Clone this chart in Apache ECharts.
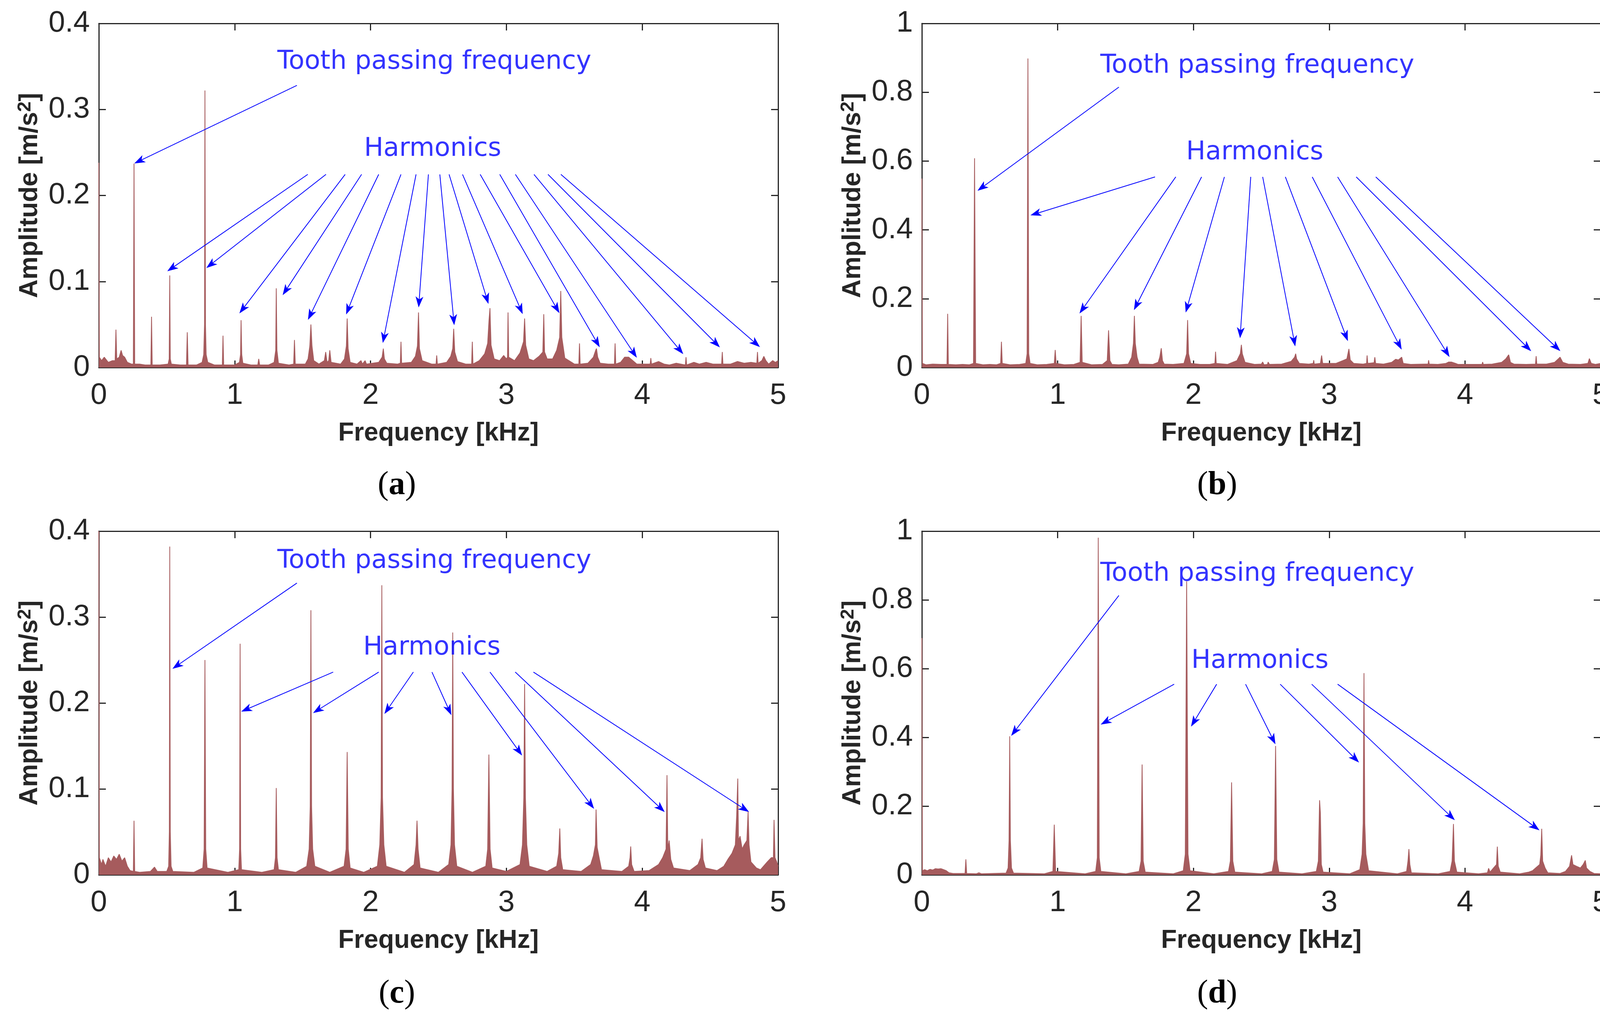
<!DOCTYPE html>
<html><head><meta charset="utf-8">
<script src="https://cdn.jsdelivr.net/npm/echarts@6/dist/echarts.min.js"></script>
<style>html,body{margin:0;padding:0;background:#fff}#c{width:4146px;height:2604px}</style>
</head><body><div id="c"></div>
<script>
// ---------- data ----------
const panelLetters = ['a', 'b', 'c', 'd'];
const xTicksMax = 5;
const yMax = [0.4, 1, 0.4, 1];
const yStep = [0.1, 0.2, 0.1, 0.2];

const spectrumA = [
[0,0.238],[0.004,0.012],[0.02,0.008],[0.04,0.012],[0.07,0.006],[0.1,0.008],
[0.12,0.008],[0.126,0.044],[0.132,0.01],[0.15,0.012],[0.164,0.02],[0.175,0.014],[0.19,0.012],[0.21,0.006],[0.24,0.004],
[0.254,0.004],[0.259,0.237],[0.264,0.004],
[0.3,0.004],[0.34,0.003],[0.383,0.003],[0.388,0.059],[0.393,0.003],
[0.45,0.003],[0.51,0.004],[0.518,0.01],[0.522,0.107],[0.526,0.01],[0.534,0.004],
[0.6,0.003],[0.645,0.003],[0.651,0.041],[0.657,0.003],
[0.72,0.003],[0.76,0.006],[0.772,0.015],[0.778,0.05],[0.781,0.322],[0.785,0.05],[0.79,0.015],[0.802,0.006],
[0.85,0.003],[0.909,0.003],[0.914,0.037],[0.919,0.003],
[1.0,0.003],[1.035,0.006],[1.043,0.015],[1.047,0.055],[1.052,0.015],[1.06,0.005],
[1.12,0.003],[1.17,0.003],[1.177,0.010],[1.184,0.003],
[1.25,0.003],[1.29,0.006],[1.302,0.02],[1.306,0.092],[1.311,0.02],[1.322,0.005],
[1.4,0.003],[1.434,0.004],[1.44,0.032],[1.446,0.004],
[1.52,0.004],[1.54,0.01],[1.553,0.025],[1.561,0.050],[1.569,0.025],[1.582,0.008],
[1.62,0.004],[1.66,0.008],[1.67,0.018],[1.68,0.006],[1.692,0.008],[1.70,0.020],[1.71,0.006],
[1.78,0.004],[1.808,0.01],[1.822,0.025],[1.828,0.057],[1.835,0.022],[1.85,0.006],
[1.9,0.004],[1.93,0.008],[1.94,0.004],[1.96,0.008],[1.97,0.004],
[2.06,0.006],[2.085,0.012],[2.094,0.022],[2.102,0.01],[2.12,0.005],
[2.2,0.004],[2.219,0.005],[2.224,0.030],[2.229,0.005],
[2.3,0.006],[2.33,0.013],[2.345,0.025],[2.353,0.064],[2.36,0.022],[2.38,0.008],
[2.45,0.004],[2.482,0.004],[2.487,0.014],[2.492,0.004],
[2.56,0.006],[2.59,0.013],[2.605,0.022],[2.612,0.045],[2.62,0.018],[2.64,0.007],
[2.7,0.004],[2.744,0.004],[2.749,0.030],[2.754,0.004],
[2.8,0.008],[2.84,0.016],[2.862,0.028],[2.872,0.055],[2.879,0.069],[2.887,0.026],[2.91,0.01],
[2.95,0.008],[2.98,0.014],[3.0,0.01],[3.008,0.012],[3.012,0.064],[3.017,0.012],
[3.06,0.008],[3.1,0.017],[3.126,0.03],[3.134,0.057],[3.142,0.026],[3.165,0.01],
[3.2,0.008],[3.24,0.013],[3.268,0.018],[3.275,0.062],[3.281,0.018],[3.3,0.01],
[3.34,0.01],[3.37,0.02],[3.392,0.035],[3.4,0.089],[3.408,0.035],[3.43,0.011],
[3.5,0.004],[3.533,0.004],[3.538,0.028],[3.543,0.004],
[3.6,0.005],[3.64,0.012],[3.657,0.02],[3.663,0.022],[3.672,0.012],[3.69,0.005],
[3.75,0.004],[3.795,0.004],[3.80,0.028],[3.805,0.004],
[3.84,0.006],[3.87,0.012],[3.9,0.012],[3.93,0.008],[3.96,0.004],
[4.02,0.004],[4.058,0.004],[4.063,0.011],[4.068,0.004],
[4.12,0.007],[4.16,0.004],[4.2,0.003],[4.25,0.005],[4.317,0.003],[4.322,0.012],[4.327,0.003],
[4.38,0.006],[4.42,0.004],[4.47,0.006],[4.52,0.004],[4.584,0.004],[4.589,0.018],[4.594,0.004],
[4.65,0.004],[4.7,0.007],[4.75,0.005],[4.8,0.006],[4.843,0.005],[4.848,0.018],[4.853,0.005],
[4.88,0.008],[4.895,0.013],[4.91,0.008],[4.93,0.004],[4.96,0.008],[4.98,0.006],[5,0.008]
];

const spectrumB = [
[0,0.549],[0.004,0.012],[0.03,0.008],[0.08,0.01],[0.14,0.009],[0.185,0.009],[0.19,0.156],[0.195,0.009],
[0.25,0.008],[0.3,0.009],[0.35,0.008],[0.38,0.012],[0.388,0.608],[0.396,0.012],
[0.45,0.008],[0.5,0.009],[0.55,0.008],[0.58,0.012],[0.586,0.075],[0.592,0.012],
[0.65,0.008],[0.72,0.009],[0.765,0.012],[0.775,0.04],[0.781,0.898],[0.787,0.04],[0.797,0.012],
[0.85,0.008],[0.92,0.009],[0.975,0.012],[0.982,0.051],[0.989,0.012],
[1.05,0.008],[1.12,0.009],[1.165,0.015],[1.173,0.150],[1.181,0.015],
[1.25,0.008],[1.33,0.009],[1.365,0.02],[1.375,0.108],[1.385,0.02],[1.4,0.009],
[1.45,0.008],[1.52,0.01],[1.545,0.03],[1.558,0.07],[1.565,0.150],[1.572,0.07],[1.585,0.03],[1.6,0.01],
[1.7,0.009],[1.74,0.015],[1.752,0.03],[1.763,0.056],[1.772,0.02],[1.785,0.01],
[1.85,0.009],[1.93,0.012],[1.95,0.04],[1.957,0.138],[1.964,0.04],[1.98,0.012],
[2.05,0.009],[2.12,0.009],[2.158,0.012],[2.163,0.046],[2.168,0.012],
[2.25,0.009],[2.32,0.02],[2.345,0.04],[2.353,0.066],[2.36,0.04],[2.38,0.015],
[2.45,0.009],[2.5,0.01],[2.51,0.016],[2.52,0.008],[2.545,0.009],[2.55,0.016],[2.56,0.009],
[2.65,0.01],[2.72,0.018],[2.745,0.03],[2.753,0.040],[2.76,0.025],[2.78,0.012],
[2.85,0.01],[2.882,0.012],[2.886,0.021],[2.89,0.01],[2.935,0.012],[2.944,0.035],[2.952,0.012],
[3.05,0.012],[3.1,0.02],[3.13,0.025],[3.145,0.054],[3.155,0.022],[3.18,0.012],
[3.25,0.01],[3.275,0.012],[3.279,0.035],[3.284,0.012],[3.33,0.014],[3.336,0.030],[3.342,0.012],
[3.4,0.01],[3.46,0.015],[3.49,0.024],[3.51,0.022],[3.534,0.030],[3.545,0.012],
[3.6,0.009],[3.7,0.01],[3.728,0.01],[3.732,0.021],[3.737,0.01],
[3.8,0.009],[3.86,0.012],[3.88,0.016],[3.9,0.016],[3.93,0.012],[3.95,0.009],
[4.05,0.009],[4.125,0.009],[4.13,0.016],[4.135,0.009],
[4.2,0.01],[4.27,0.015],[4.3,0.025],[4.322,0.037],[4.335,0.015],[4.36,0.01],
[4.45,0.009],[4.519,0.01],[4.524,0.033],[4.529,0.01],
[4.6,0.01],[4.66,0.015],[4.69,0.026],[4.7,0.030],[4.72,0.015],[4.76,0.01],
[4.85,0.009],[4.905,0.012],[4.916,0.026],[4.93,0.012],[4.96,0.009],[5,0.012]
];

const spectrumC = [
[0,0.4],[0.004,0.02],[0.02,0.012],[0.03,0.018],[0.05,0.01],[0.07,0.02],[0.09,0.015],[0.11,0.022],[0.13,0.018],[0.15,0.024],[0.17,0.016],[0.19,0.02],[0.21,0.01],[0.23,0.005],
[0.254,0.004],[0.259,0.063],[0.264,0.004],
[0.3,0.003],[0.38,0.004],[0.41,0.009],[0.43,0.004],
[0.5,0.004],[0.514,0.01],[0.519,0.05],[0.522,0.382],[0.526,0.05],[0.532,0.01],[0.545,0.004],
[0.7,0.003],[0.765,0.008],[0.775,0.03],[0.781,0.250],[0.787,0.03],[0.797,0.008],
[0.95,0.003],[1.03,0.006],[1.036,0.03],[1.04,0.269],[1.044,0.03],[1.05,0.006],
[1.2,0.003],[1.29,0.006],[1.3,0.02],[1.306,0.101],[1.312,0.02],[1.322,0.006],
[1.45,0.003],[1.53,0.01],[1.548,0.03],[1.556,0.08],[1.561,0.308],[1.566,0.08],[1.574,0.03],[1.59,0.01],
[1.7,0.003],[1.805,0.01],[1.82,0.03],[1.828,0.143],[1.836,0.03],[1.85,0.008],
[1.95,0.003],[2.05,0.01],[2.068,0.035],[2.078,0.09],[2.083,0.337],[2.088,0.09],[2.098,0.035],[2.115,0.01],
[2.25,0.003],[2.32,0.012],[2.335,0.035],[2.342,0.063],[2.35,0.03],[2.365,0.008],
[2.5,0.003],[2.575,0.012],[2.592,0.035],[2.6,0.1],[2.605,0.282],[2.61,0.1],[2.618,0.035],[2.635,0.01],
[2.75,0.003],[2.848,0.01],[2.862,0.03],[2.871,0.140],[2.88,0.03],[2.895,0.008],
[3.0,0.004],[3.1,0.012],[3.118,0.035],[3.128,0.09],[3.134,0.222],[3.14,0.09],[3.15,0.035],[3.168,0.01],
[3.3,0.004],[3.37,0.01],[3.385,0.025],[3.393,0.054],[3.4,0.02],[3.415,0.006],
[3.55,0.004],[3.62,0.012],[3.64,0.022],[3.655,0.035],[3.66,0.076],[3.668,0.032],[3.685,0.018],[3.7,0.006],
[3.85,0.004],[3.9,0.01],[3.91,0.02],[3.915,0.033],[3.922,0.012],[3.94,0.004],
[4.05,0.005],[4.12,0.012],[4.15,0.02],[4.175,0.03],[4.182,0.116],[4.188,0.03],[4.198,0.04],[4.21,0.018],[4.23,0.008],
[4.35,0.005],[4.41,0.012],[4.43,0.02],[4.44,0.042],[4.448,0.018],[4.465,0.008],
[4.55,0.005],[4.6,0.01],[4.63,0.018],[4.66,0.025],[4.685,0.035],[4.695,0.07],[4.703,0.112],[4.708,0.04],[4.72,0.045],[4.735,0.03],[4.75,0.035],[4.77,0.04],[4.779,0.074],[4.786,0.035],[4.8,0.015],[4.84,0.008],[4.87,0.006],
[4.92,0.015],[4.95,0.02],[4.965,0.02],[4.97,0.064],[4.977,0.02],[4.99,0.015],[5,0.01]
];

const spectrumD = [
[0,0.689],[0.004,0.012],[0.02,0.015],[0.04,0.012],[0.06,0.016],[0.08,0.014],[0.1,0.018],[0.12,0.017],[0.14,0.018],[0.16,0.015],[0.18,0.012],[0.2,0.006],[0.23,0.004],
[0.318,0.004],[0.324,0.045],[0.33,0.004],
[0.4,0.003],[0.42,0.006],[0.44,0.003],
[0.62,0.005],[0.635,0.02],[0.642,0.1],[0.647,0.403],[0.652,0.1],[0.66,0.02],[0.675,0.005],
[0.9,0.003],[0.965,0.01],[0.975,0.146],[0.985,0.01],
[1.2,0.003],[1.28,0.01],[1.292,0.05],[1.299,0.981],[1.306,0.05],[1.318,0.01],
[1.5,0.003],[1.6,0.01],[1.614,0.04],[1.622,0.321],[1.63,0.04],[1.645,0.008],
[1.85,0.003],[1.925,0.012],[1.94,0.06],[1.95,0.854],[1.96,0.06],[1.975,0.012],
[2.15,0.003],[2.258,0.01],[2.272,0.04],[2.281,0.269],[2.29,0.04],[2.305,0.008],
[2.5,0.003],[2.58,0.01],[2.596,0.045],[2.605,0.375],[2.614,0.045],[2.63,0.008],
[2.8,0.003],[2.905,0.01],[2.92,0.04],[2.929,0.217],[2.935,0.18],[2.942,0.03],[2.955,0.008],
[3.15,0.003],[3.225,0.015],[3.242,0.06],[3.25,0.15],[3.256,0.587],[3.262,0.15],[3.27,0.06],[3.29,0.012],
[3.5,0.003],[3.57,0.01],[3.58,0.04],[3.587,0.075],[3.594,0.03],[3.605,0.006],
[3.8,0.003],[3.89,0.01],[3.905,0.04],[3.915,0.148],[3.922,0.04],[3.94,0.008],
[4.1,0.003],[4.165,0.006],[4.174,0.019],[4.185,0.008],[4.21,0.02],[4.232,0.03],[4.238,0.082],[4.245,0.025],[4.26,0.008],
[4.4,0.003],[4.47,0.008],[4.497,0.012],[4.52,0.02],[4.55,0.03],[4.558,0.057],[4.565,0.134],[4.572,0.04],[4.59,0.02],[4.61,0.006],
[4.7,0.004],[4.74,0.01],[4.77,0.025],[4.785,0.057],[4.795,0.03],[4.82,0.025],[4.85,0.02],[4.87,0.03],[4.886,0.042],[4.895,0.02],[4.92,0.01],[4.95,0.004],[5,0.003]
];

// annotation anchors in data coordinates [kHz, amplitude]
const toothTextPos = [[1.314,0.355],[1.314,0.877],[1.314,0.365],[1.314,0.875]];
const harmTextPos  = [[1.952,0.254],[1.946,0.624],[1.946,0.264],[1.984,0.622]];
const toothArrows = [
  [[1.458,0.328],[0.297,0.240]],
  [[1.451,0.815],[0.442,0.523]],
  [[1.458,0.3396],[0.575,0.2434]],
  [[1.451,0.813],[0.682,0.417]]
];
const harmArrowsA = [
  [[1.538,0.2245],[0.537,0.1155]],[[1.672,0.2245],[0.823,0.1196]],[[1.813,0.2245],[1.059,0.0679]],
  [[1.934,0.2245],[1.375,0.0894]],[[2.06,0.2245],[1.557,0.0611]],[[2.224,0.2245],[1.835,0.0675]],
  [[2.335,0.2245],[2.098,0.0347]],[[2.426,0.2245],[2.357,0.0762]],[[2.51,0.2245],[2.612,0.0555]],
  [[2.578,0.2245],[2.856,0.080]],[[2.677,0.2245],[3.104,0.0679]],[[2.807,0.2245],[3.37,0.0687]],
  [[2.951,0.2245],[3.667,0.029]],[[3.066,0.2245],[3.938,0.0166]],[[3.203,0.2245],[4.276,0.0204]],
  [[3.306,0.2245],[4.543,0.0279]],[[3.401,0.2245],[4.836,0.0279]]
];
const harmArrowsB = [
  [[1.717,0.554],[0.838,0.447]],[[1.87,0.554],[1.184,0.170]],[[2.06,0.554],[1.58,0.181]],
  [[2.228,0.554],[1.954,0.175]],[[2.422,0.554],[2.346,0.101]],[[2.51,0.554],[2.742,0.077]],
  [[2.677,0.554],[3.123,0.0915]],[[2.875,0.554],[3.515,0.066]],[[3.062,0.554],[3.865,0.044]],
  [[3.199,0.554],[4.459,0.0585]],[[3.343,0.554],[4.673,0.0585]]
];
const harmArrowsC = [
  [[1.725,0.236],[1.085,0.1925]],[[2.06,0.236],[1.611,0.1917]],[[2.315,0.236],[2.125,0.1925]],
  [[2.452,0.236],[2.578,0.1917]],[[2.673,0.236],[3.092,0.144]],[[2.879,0.236],[3.621,0.0819]],
  [[3.065,0.236],[4.136,0.0774]],[[3.199,0.236],[4.752,0.0766]]
];
const harmArrowsD = [
  [[1.858,0.5547],[1.352,0.445]],[[2.171,0.5547],[2.003,0.445]],[[2.384,0.5547],[2.586,0.394]],
  [[2.639,0.5547],[3.191,0.338]],[[2.871,0.5547],[3.896,0.170]],[[3.062,0.5547],[4.516,0.139]]
];

const spectra = [spectrumA, spectrumB, spectrumC, spectrumD];
const harmArrows = [harmArrowsA, harmArrowsB, harmArrowsC, harmArrowsD];

// ---------- layout / style ----------
const grids = [
  {left:253, top:60, width:1739, height:881},
  {left:2360, top:60, width:1738, height:881},
  {left:253, top:1360, width:1739, height:880},
  {left:2360, top:1360, width:1738, height:880}
];
const panelLabelPos = [[1016,1243],[3116,1243],[1016,2545],[3116,2545]];
const AX = '#262626';
const FILL = '#a65b5d';
const BLUE = '#0000ff';
const ARROW = 'path://M0,0 L10,30 L0,22 L-10,30 Z';

const xAxes = [], yAxes = [], series = [], graphics = [];
grids.forEach((g, k) => {
  const lineCommon = {show:true, onZero:false, lineStyle:{color:AX, width:3}};
  const tickCommon = {show:true, inside:true, length:18, lineStyle:{color:AX, width:3}};
  xAxes.push({
    type:'value', gridIndex:k, min:0, max:xTicksMax, interval:1, position:'bottom',
    axisLine:lineCommon, axisTick:tickCommon, splitLine:{show:false},
    axisLabel:{fontFamily:'Liberation Sans', fontSize:76, color:AX, margin:34},
    name:'Frequency [kHz]', nameLocation:'middle', nameGap:136,
    nameTextStyle:{fontFamily:'Liberation Sans', fontSize:66, fontWeight:'bold', color:AX}
  });
  xAxes.push({
    type:'value', gridIndex:k, min:0, max:xTicksMax, interval:1, position:'top',
    axisLine:lineCommon, axisTick:tickCommon, splitLine:{show:false}, axisLabel:{show:false}
  });
  yAxes.push({
    type:'value', gridIndex:k, min:0, max:yMax[k], interval:yStep[k], position:'left',
    axisLine:lineCommon, axisTick:tickCommon, splitLine:{show:false},
    axisLabel:{fontFamily:'Liberation Sans', fontSize:76, color:AX, margin:23},
    name:'{t|Amplitude [m/s}{s|2}{t|]}', nameLocation:'middle', nameGap:140, nameRotate:90,
    nameTextStyle:{fontFamily:'Liberation Sans', fontSize:66, fontWeight:'bold', color:AX,
      rich:{
        t:{fontFamily:'Liberation Sans', fontSize:66, fontWeight:'bold', color:AX, lineHeight:72},
        s:{fontFamily:'Liberation Sans', fontSize:48, fontWeight:'bold', color:AX, verticalAlign:'top', lineHeight:48}
      }}
  });
  yAxes.push({
    type:'value', gridIndex:k, min:0, max:yMax[k], interval:yStep[k], position:'right',
    axisLine:lineCommon, axisTick:tickCommon, splitLine:{show:false}, axisLabel:{show:false}
  });
  const arrows = [toothArrows[k]].concat(harmArrows[k]);
  series.push({
    type:'line', xAxisIndex:2*k, yAxisIndex:2*k, data:spectra[k],
    symbol:'none', showSymbol:false, sampling:null, animation:false, silent:true,
    lineStyle:{color:FILL, width:2}, itemStyle:{color:FILL},
    areaStyle:{color:FILL, opacity:1},
    markLine:{
      silent:true, animation:false, symbol:['none', ARROW], symbolSize:[0, 24],
      lineStyle:{color:BLUE, width:2, type:'solid'}, itemStyle:{color:BLUE},
      label:{show:false}, emphasis:{disabled:true},
      data: arrows.map(a => [{coord:a[0]}, {coord:a[1], symbolSize:[20, 28]}])
    }
  });
  series.push({
    type:'scatter', xAxisIndex:2*k, yAxisIndex:2*k, symbolSize:0, silent:true, animation:false, z:5,
    itemStyle:{color:'rgba(0,0,0,0)'},
    data:[{value:toothTextPos[k], name:'Tooth passing frequency'}, {value:harmTextPos[k], name:'Harmonics'}],
    label:{show:true, position:'right', distance:0, formatter:'{b}', fontFamily:'DejaVu Sans', fontSize:66, color:BLUE}
  });
  graphics.push({
    type:'text', x:panelLabelPos[k][0], y:panelLabelPos[k][1], silent:true,
    style:{
      text:'{p|(}{b|' + panelLetters[k] + '}{p|)}', align:'center', verticalAlign:'middle',
      rich:{
        p:{fontFamily:'Liberation Serif', fontSize:84, fill:'#000'},
        b:{fontFamily:'Liberation Serif', fontSize:84, fontWeight:'bold', fill:'#000'}
      }
    }
  });
});

const chart = echarts.init(document.getElementById('c'), null, {renderer:'canvas'});
chart.setOption({
  backgroundColor:'#ffffff',
  animation:false,
  grid:grids,
  xAxis:xAxes,
  yAxis:yAxes,
  series:series,
  graphic:graphics
});
</script>
</body></html>
